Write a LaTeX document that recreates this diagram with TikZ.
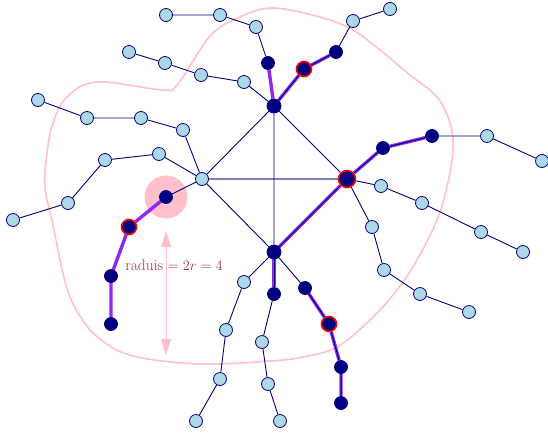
\documentclass[tikz,border=0pt]{standalone}
\usetikzlibrary{arrows.meta}
\definecolor{lb}{RGB}{173,216,230}
\definecolor{nv}{RGB}{0,0,128}
\definecolor{pk}{RGB}{255,192,203}
\definecolor{vio}{RGB}{145,40,235}
\definecolor{txt}{RGB}{165,50,50}
\pgfdeclarelayer{pinklayer}
\pgfdeclarelayer{edgelayer}
\pgfsetlayers{pinklayer,edgelayer,main}
\tikzset{
  lnode/.style={circle,fill=lb,draw=nv,line width=0.8pt,minimum size=13pt,inner sep=0pt},
  dnode/.style={circle,fill=nv,draw=nv,line width=0.8pt,minimum size=13pt,inner sep=0pt},
  rnode/.style={circle,fill=nv,draw=red,line width=1.6pt,minimum size=15pt,inner sep=0pt},
  edge/.style={draw=nv,line width=0.9pt},
  thk/.style={draw=vio,line width=3.4pt},
  core/.style={draw=nv,line width=1pt},
}
\begin{document}
\begin{tikzpicture}[x=1pt,y=-1pt]
\useasboundingbox (0,0) rectangle (548,432);
% nodes
\node[lnode] (l1) at (166,15) {};
\node[lnode] (l2) at (220,15) {};
\node[lnode] (l3) at (256,27) {};
\node[lnode] (l4) at (129,52) {};
\node[lnode] (l5) at (165,63) {};
\node[lnode] (l6) at (201,75) {};
\node[lnode] (l7) at (244,82) {};
\node[lnode] (l8) at (38,100) {};
\node[lnode] (l9) at (87,118) {};
\node[lnode] (l10) at (141,118) {};
\node[lnode] (l11) at (183,130) {};
\node[lnode] (l12) at (13,220) {};
\node[lnode] (l13) at (68,203) {};
\node[lnode] (l14) at (105,160) {};
\node[lnode] (l15) at (159,154) {};
\node[lnode] (A) at (202,179) {};
\node[lnode] (l16) at (353,21) {};
\node[lnode] (l17) at (390,9) {};
\node[lnode] (l18) at (487,136) {};
\node[lnode] (l19) at (542,161) {};
\node[lnode] (l20) at (381,186) {};
\node[lnode] (l21) at (422,203) {};
\node[lnode] (l22) at (481,232) {};
\node[lnode] (l23) at (523,252) {};
\node[lnode] (l24) at (372,227) {};
\node[lnode] (l25) at (384,270) {};
\node[lnode] (l26) at (420,294) {};
\node[lnode] (l27) at (469,312) {};
\node[lnode] (l28) at (244,282) {};
\node[lnode] (l29) at (226,330) {};
\node[lnode] (l30) at (220,379) {};
\node[lnode] (l31) at (196,421) {};
\node[lnode] (l32) at (262,342) {};
\node[lnode] (l33) at (268,384) {};
\node[lnode] (l34) at (280,421) {};
\node[dnode,minimum size=14pt] (B) at (274,106) {};
\node[rnode,minimum size=17pt] (C) at (347,179) {};
\node[dnode,minimum size=14pt] (D) at (274,252) {};
\node[dnode] (d1) at (268,63) {};
\node[rnode] (r1) at (304,69) {};
\node[dnode] (d2) at (336,52) {};
\node[dnode] (d3) at (383,148) {};
\node[dnode] (d4) at (432,136) {};
\node[dnode] (d5) at (274,294) {};
\node[dnode] (d6) at (305,288) {};
\node[rnode] (r2) at (329,324) {};
\node[dnode] (d7) at (341,367) {};
\node[dnode] (d8) at (341,403) {};
\node[dnode] (d9) at (166,197) {};
\node[rnode] (r3) at (129,227) {};
\node[dnode] (d10) at (111,276) {};
\node[dnode] (d11) at (111,324) {};
\coordinate (atop) at (166,231);
\coordinate (abot) at (166,355);
% pink things
\begin{pgfonlayer}{pinklayer}
\draw[pk,line width=1.6pt] plot[smooth cycle,tension=0.6] coordinates {
(270,8) (320,17) (353,30) (380,50) (410,75) (437,97) (450,123) (453,150) (447,187) (437,220) (417,260) (397,290) (370,320) (337,347) (303,357) (270,361) (200,364) (133,356) (100,339) (80,316) (66,285) (53,225) (45,187) (47,153) (53,123) (67,97) (97,82) (163,90) (177,85) (200,50) (213,33) (233,20)};
\fill[pk] (d9) circle (21.5);
\draw[pk,line width=0.9pt,{Triangle[length=16pt,width=10pt]}-{Triangle[length=16pt,width=10pt]}] (atop) -- (abot);
\end{pgfonlayer}
\node[text=txt,font=\fontsize{15.5}{17}\selectfont,inner sep=0pt] (lbl) at (174,265) {raduis $=2r=4$};
% edges
\begin{pgfonlayer}{edgelayer}
\path[edge] (l1)--(l2) (l2)--(l3) (l3)--(d1);
\path[edge] (l4)--(l5) (l5)--(l6) (l6)--(l7) (l7)--(B);
\path[edge] (l8)--(l9) (l9)--(l10) (l10)--(l11) (l11)--(A);
\path[edge] (l12)--(l13) (l13)--(l14) (l14)--(l15) (l15)--(A);
\path[edge] (A)--(d9) (A)--(B) (A)--(D) (B)--(C) (B)--(D) (C)--(D);
\path[draw=nv,line width=1.8pt,draw opacity=0.5] (A)--(C);
\path[edge] (d2)--(l16) (l16)--(l17);
\path[edge] (d4)--(l18) (l18)--(l19);
\path[edge] (C)--(l20) (l20)--(l21) (l21)--(l22) (l22)--(l23);
\path[edge] (C)--(l24) (l24)--(l25) (l25)--(l26) (l26)--(l27);
\path[edge] (D)--(l28) (l28)--(l29) (l29)--(l30) (l30)--(l31);
\path[edge] (d5)--(l32) (l32)--(l33) (l33)--(l34);
\path[edge] (D)--(d6);
% thick purple
\path[thk] (B)--(d1);
\path[thk] (B)--(r1) (r1)--(d2);
\path[thk] (C)--(d3) (d3)--(d4);
\path[thk] (D)--(C);
\path[thk] (D)--(d5);
\path[thk] (d6)--(r2) (r2)--(d7) (d7)--(d8);
\path[thk] (d9)--(r3) (r3)--(d10) (d10)--(d11);
\path[core] (B)--(r1) (r1)--(d2);
\path[core] (C)--(d3) (d3)--(d4);
\path[core] (D)--(C);
\path[core] (D)--(d5);
\path[core] (d6)--(r2) (r2)--(d7) (d7)--(d8);
\end{pgfonlayer}
\end{tikzpicture}
\end{document}
